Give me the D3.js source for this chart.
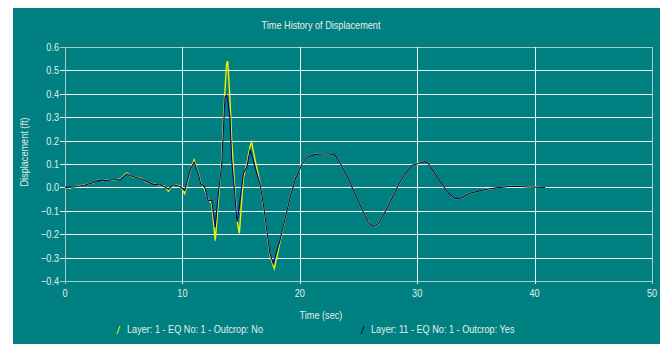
<!DOCTYPE html>
<html>
<head>
    <meta charset="utf-8">
    <title>Time History of Displacement</title>
    <script src="https://cdn.jsdelivr.net/npm/d3@7"></script>
    <style>
        body { margin: 0; background: #fff; }
        text { font-family: "Liberation Sans", Arial, sans-serif; fill: #e4eeee; }
    </style>
</head>
<body>
<script>
    // time (sec)
    var timeSec = [0, 0.4, 0.7, 1.2, 1.7, 2.4, 2.84, 3.2, 3.55, 4.1, 4.7, 5.25, 5.7, 6.4, 6.96, 7.5, 8.1, 8.5, 8.8, 9.1,
        9.5, 9.8, 10.2, 10.65, 11.0, 11.36, 11.55, 11.9, 12.2, 12.5, 12.8, 13.06, 13.35, 13.63, 13.77, 13.86, 14.05, 14.2,
        14.48, 14.65, 14.85, 15.19, 15.48, 15.76, 15.9, 16.18, 16.61, 16.89, 17.46, 17.74, 17.83, 18.31, 18.74, 19.17,
        19.63, 20.19, 20.72, 21.29, 22.43, 23.0, 23.57, 24.13, 24.7, 25.27, 25.83, 26.18, 26.69, 27.26, 27.83, 28.39,
        28.96, 29.53, 30.24, 30.66, 30.95, 31.52, 32.09, 32.65, 33.22, 33.65, 34.35, 35.2, 36.06, 36.91, 37.76, 38.9,
        39.46, 40.9];

    // Layer 1 - EQ 1 - Outcrop: No  (jaune)
    var layer1 = [0, -0.004, 0.001, 0.006, 0.012, 0.018, 0.032, 0.026, 0.033, 0.03, 0.036, 0.062, 0.046, 0.04, 0.022,
        0.016, 0.008, 0.005, -0.016, 0.004, 0.009, 0.006, -0.027, 0.07, 0.118, 0.062, 0.02, -0.01, -0.05, -0.07, -0.228,
        -0.06, 0.13, 0.42, 0.53, 0.54, 0.38, 0.2, -0.02, -0.14, -0.197, 0.04, 0.1, 0.175, 0.194, 0.12, 0.02, -0.075,
        -0.29, -0.335, -0.347, -0.235, -0.135, -0.045, 0.037, 0.1, 0.13, 0.142, 0.144, 0.136, 0.095, 0.036, -0.027,
        -0.09, -0.147, -0.168, -0.155, -0.104, -0.048, 0.009, 0.058, 0.094, 0.105, 0.11, 0.104, 0.058, 0.016, -0.024,
        -0.049, -0.046, -0.027, -0.016, -0.007, -0.001, 0.004, 0.004, 0.002, 0];

    // Layer 11 - EQ 1 - Outcrop: Yes  (bleu)
    var layer11 = [0, 0.001, 0.002, 0.005, 0.01, 0.02, 0.03, 0.028, 0.03, 0.033, 0.033, 0.058, 0.048, 0.038, 0.024,
        0.014, 0.01, 0.003, -0.008, 0.006, 0.008, 0.004, -0.013, 0.073, 0.108, 0.058, 0.016, 0.001, -0.056, -0.056, -0.17,
        -0.026, 0.1, 0.386, 0.395, 0.37, 0.3, 0.115, -0.04, -0.148, -0.08, 0.058, 0.087, 0.158, 0.14, 0.087, 0.016, -0.07,
        -0.283, -0.326, -0.31, -0.226, -0.135, -0.045, 0.037, 0.1, 0.13, 0.141, 0.144, 0.137, 0.094, 0.037, -0.027,
        -0.09, -0.148, -0.167, -0.155, -0.105, -0.048, 0.009, 0.058, 0.094, 0.104, 0.11, 0.103, 0.058, 0.016, -0.024,
        -0.048, -0.046, -0.027, -0.016, -0.007, -0.001, 0.004, 0.004, 0.002, 0];

    var xTicks = [0, 10, 20, 30, 40, 50];
    var yTicks = [-0.4, -0.3, -0.2, -0.1, 0.0, 0.1, 0.2, 0.3, 0.4, 0.5, 0.6];
    var legendLabels = ["Layer: 1 - EQ No: 1 - Outcrop: No", "Layer: 11 - EQ No: 1 - Outcrop: Yes"];
    var seriesColors = ["#f0f000", "#000080"];

    var width = 662, height = 344;
    var margin = {left: 65, right: 10, top: 47, bottom: 63};

    var svg = d3.select("body").append("svg")
        .attr("width", width)
        .attr("height", height);

    // fond teal
    svg.append("rect")
        .attr("x", 13).attr("y", 8)
        .attr("width", 647).attr("height", 336)
        .attr("fill", "#008080");

    var x = d3.scaleLinear().domain([0, 50]).range([margin.left, width - margin.right]);
    var y = d3.scaleLinear().domain([-0.4, 0.6]).range([height - margin.bottom, margin.top]);

    // grille
    var grid = svg.append("g").attr("shape-rendering", "crispEdges");
    grid.selectAll(".hg").data(yTicks).enter().append("line")
        .attr("x1", x(0) - 5).attr("x2", x(50))
        .attr("y1", function(d){ return Math.round(y(d)) + 0.5; })
        .attr("y2", function(d){ return Math.round(y(d)) + 0.5; })
        .attr("stroke", function(d){ return (d === 0.6 || d === -0.4) ? "#a8cccc" : "#f4f8f8"; });
    grid.selectAll(".vg").data(xTicks).enter().append("line")
        .attr("y1", y(0.6)).attr("y2", y(-0.4) + 3)
        .attr("x1", function(d){ return Math.round(x(d)) + 0.5; })
        .attr("x2", function(d){ return Math.round(x(d)) + 0.5; })
        .attr("stroke", function(d){ return (d === 0 || d === 50) ? "#a8cccc" : "#f4f8f8"; });

    // étiquettes des axes
    svg.selectAll(".yl").data(yTicks).enter().append("text")
        .attr("x", x(0) - 6).attr("y", function(d){ return y(d) + 4; })
        .attr("text-anchor", "end")
        .style("font-size", "11px")
        .text(function(d){ return d3.format(".1f")(d); });
    svg.selectAll(".xl").data(xTicks).enter().append("text")
        .attr("x", function(d){ return x(d); }).attr("y", y(-0.4) + 16)
        .attr("text-anchor", "middle")
        .style("font-size", "11px")
        .text(function(d){ return d; });

    // courbes
    var line = d3.line()
        .x(function(d){ return x(d[0]); })
        .y(function(d){ return y(d[1]); });
    svg.append("path")
        .datum(d3.zip(timeSec, layer1))
        .attr("d", line)
        .attr("fill", "none")
        .attr("stroke", seriesColors[0])
        .attr("stroke-width", 1.4);
    svg.append("path")
        .datum(d3.zip(timeSec, layer11))
        .attr("d", line)
        .attr("fill", "none")
        .attr("stroke", seriesColors[1])
        .attr("stroke-width", 1.1);

    // titres
    svg.append("text")
        .attr("x", 321).attr("y", 29)
        .attr("text-anchor", "middle")
        .style("font-size", "11px")
        .text("Time History of Displacement");
    svg.append("text")
        .attr("x", 321).attr("y", 319)
        .attr("text-anchor", "middle")
        .style("font-size", "11px")
        .text("Time (sec)");
    svg.append("text")
        .attr("transform", "translate(28,152) rotate(-90)")
        .attr("text-anchor", "middle")
        .style("font-size", "11px")
        .text("Displacement (ft)");

    // légende
    var legX = [117, 361];
    var leg = svg.selectAll(".leg").data(legendLabels).enter().append("g")
        .attr("transform", function(d, i){ return "translate(" + legX[i] + ",334)"; });
    leg.append("line")
        .attr("x1", 0).attr("y1", 0).attr("x2", 3).attr("y2", -8)
        .attr("stroke", function(d, i){ return seriesColors[i]; });
    leg.append("text")
        .attr("x", 10).attr("y", -1)
        .style("font-size", "11px")
        .text(function(d){ return d; });

    // police étroite : on resserre tous les textes
    svg.selectAll("text").each(function(){
        var len = this.getComputedTextLength();
        d3.select(this).attr("textLength", len * 0.83).attr("lengthAdjust", "spacingAndGlyphs");
    });
</script>
</body>
</html>
